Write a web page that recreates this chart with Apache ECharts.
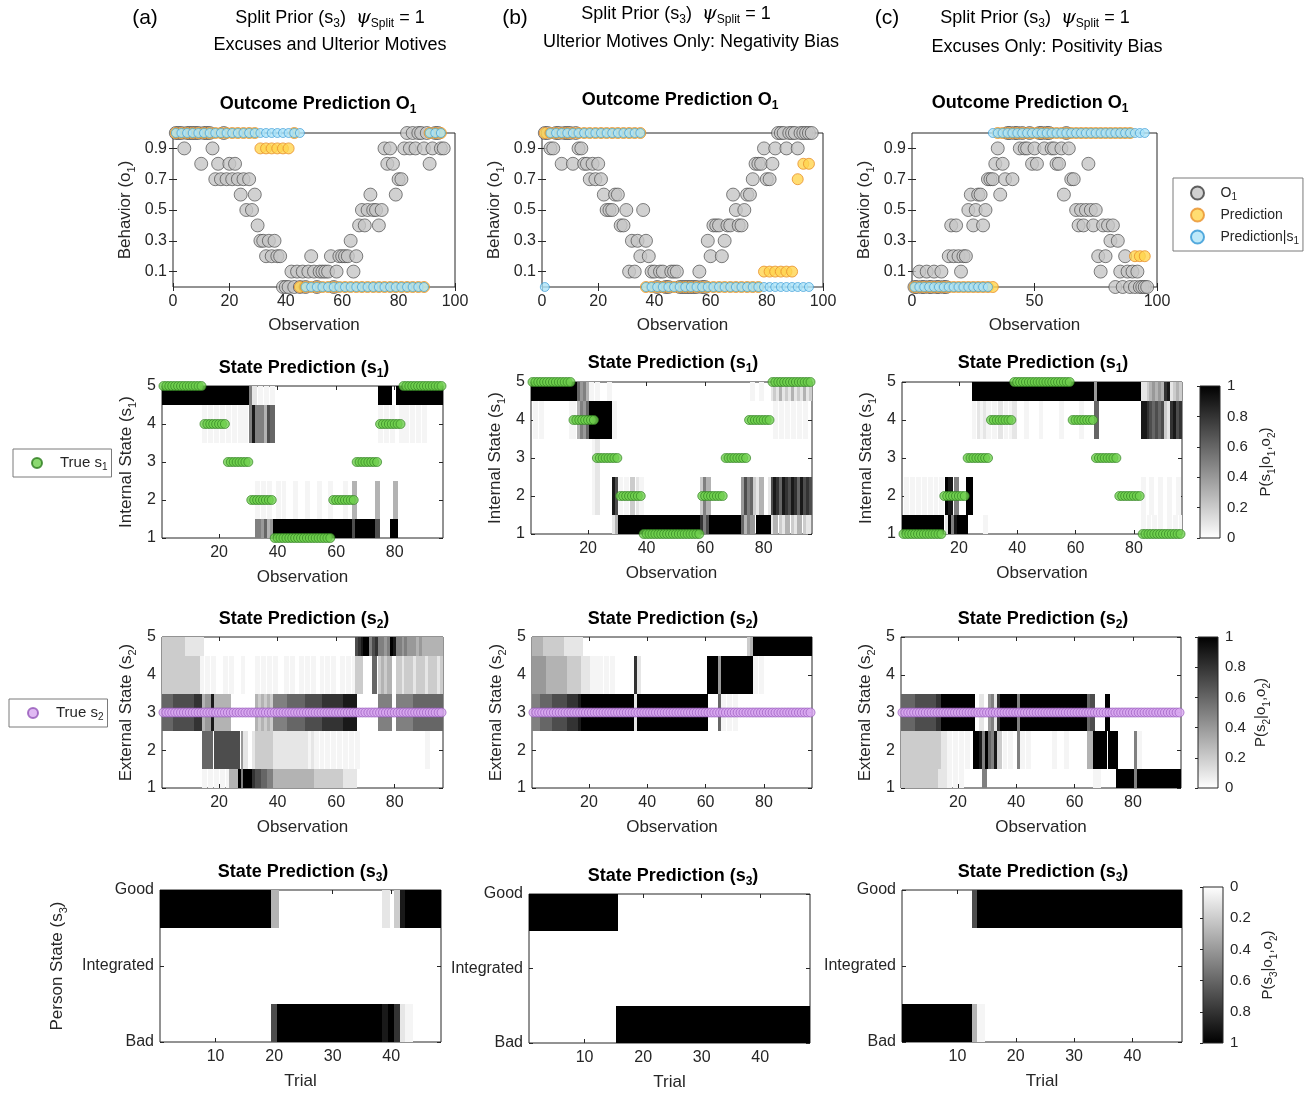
<!DOCTYPE html>
<html>
<head>
<meta charset="utf-8">
<title>Split prior simulations</title>
<script src="https://cdn.jsdelivr.net/npm/echarts@6.0.0/dist/echarts.min.js"></script>
<style>
  html, body { margin: 0; padding: 0; background: #fff; }
  #chart { width: 1312px; height: 1095px; }
</style>
</head>
<body>
<div id="chart"></div>
<script>
// ---------- data ----------
// observation i of the series is plotted at x = i (1..96)
const observations = Array.from({ length: 96 }, (_, i) => i + 1);
// predictions are made once per trial, at the first observation of the trial
const trialObs = [1,3,5,7,9,11,13,15,17,19,21,23,25,27,29,31,33,35,37,39,41,43,45,47,
  49,51,53,55,57,59,61,63,65,67,69,71,73,75,77,79,81,83,85,87,89,91,93,95];

// (a) excuses and ulterior motives
const o1A = [
  1,1,1,0.9,1,1,1,1,1,0.8,1,1,1,0.9,
  0.7,0.8,0.7,1,0.7,0.8,0.7,0.8,
  0.7,0.6,0.7,0.5,0.7,0.5,0.6,0.4,
  0.3,0.3,0.2,0.3,0.2,0.3,0.2,0.2,
  0,0,0,0.1,0,0.1,0,0.1,0,0.1,0.2,0.1,0,0.1,0.1,0.1,0.1,0.2,0,0.1,
  0.2,0.2,0.2,0.2,0.3,0.1,0.2,0.4,
  0.5,0.4,0.5,0.6,0.5,0.5,0.4,0.5,
  0.9,0.8,0.9,0.8,0.6,0.7,0.7,0.9,
  1,0.9,1,0.9,1,1,0.9,1,0.8,0.9,1,1,0.9,0.9
];
const predA = [1,1,1,1,1,1,1,1,1,1, 1,1,1,1,1,0.9,0.9,0.9,0.9,0.9, 0.9,1,0,0,0,0,0,0,0,0,
  0,0,0,0,0,0,0,0,0,0, 0,0,0,0,0,1,1,1];
const predS1A = [1,1,1,1,1,1,1,1,1,1, 1,1,1,1,1,1,1,1,1,1, 1,1,1,0,0,0,0,0,0,0,
  0,0,0,0,0,0,0,0,0,0, 0,0,0,0,0,1,1,1];

// (b) ulterior motives only
const o1B = [
  1,1,0.9,0.9,1,1,0.8,1,1,1,0.8,1,0.9,0.9,
  0.8,0.8,0.7,0.8,0.7,0.8,0.7,0.6,
  0.5,0.5,0.5,0.6,0.6,0.4,0.4,0.5,
  0.1,0.3,0.1,0.3,0.2,0.5,0.3,0.2,
  0.1,0.1,0,0.1,0.1,0,0,0.1,0.1,0.1,0,0,0,0,0,0,0,0.1,0,0,
  0.3,0.2,0.4,0.4,0.4,0.2,0.3,0.4,
  0.4,0.6,0.5,0.4,0.4,0.5,0.6,0.6,
  0.7,0.8,0.8,0.8,0.9,0.7,0.7,0.8,
  0.9,1,1,1,0.9,1,1,1,0.9,1,1,1,1,1
];
const predB = [1,1,1,1,1,1,1,1,1,1, 1,1,1,1,1,1,1,1,0,0, 0,0,0,0,0,0,0,0,0,0,
  0,0,0,0,0,0,0,0,0,0.1, 0.1,0.1,0.1,0.1,0.1,0.7,0.8,0.8];
const predS1B = [0,1,1,1,1,1,1,1,1,1, 1,1,1,1,1,1,1,1,0,0, 0,0,0,0,0,0,0,0,0,0,
  0,0,0,0,0,0,0,0,0,0, 0,0,0,0,0,0,0,0];

// (c) excuses only
const o1C = [
  0,0,0.1,0,0,0.1,0,0,0.1,0,0,0.1,0,0,
  0.2,0.4,0.2,0.4,0.2,0.1,0.2,0.2,
  0.5,0.6,0.4,0.5,0.6,0.6,0.4,0.5,
  0.7,0.7,0.7,0.8,0.9,0.6,0.8,0.7,
  1,1,0.7,1,1,0.9,1,0.9,0.9,1,0.8,0.9,0.8,1,1,0.9,1,1,0.9,0.9,
  0.8,0.8,0.9,0.6,1,0.9,0.7,0.7,
  0.5,0.4,0.5,0.4,0.5,0.8,0.5,0.4,
  0.5,0.2,0.1,0.4,0.2,0.4,0.3,0.4,
  0,0.3,0.1,0,0.2,0.1,0,0.1,0,0.1,0,0,0,0
];
const predC = [0,0,0,0,0,0,0,0,0,0, 0,0,0,0,0,0,0,1,1,1, 1,1,1,1,1,1,1,1,1,1,
  1,1,1,1,1,1,1,1,1,1, 1,1,1,1,1,0.2,0.2,0.2];
const predS1C = [0,0,0,0,0,0,0,0,0,0, 0,0,0,0,0,0,1,1,1,1, 1,1,1,1,1,1,1,1,1,1,
  1,1,1,1,1,1,1,1,1,1, 1,1,1,1,1,1,1,1];

// true hidden states
const trueS1AB = [
  5,5,5,5,5,5,5,5,5,5,5,5,5,5, 4,4,4,4,4,4,4,4, 3,3,3,3,3,3,3,3, 2,2,2,2,2,2,2,2,
  1,1,1,1,1,1,1,1,1,1,1,1,1,1,1,1,1,1,1,1,
  2,2,2,2,2,2,2,2, 3,3,3,3,3,3,3,3, 4,4,4,4,4,4,4,4, 5,5,5,5,5,5,5,5,5,5,5,5,5,5
];
const trueS1C = [
  1,1,1,1,1,1,1,1,1,1,1,1,1,1, 2,2,2,2,2,2,2,2, 3,3,3,3,3,3,3,3, 4,4,4,4,4,4,4,4,
  5,5,5,5,5,5,5,5,5,5,5,5,5,5,5,5,5,5,5,5,
  4,4,4,4,4,4,4,4, 3,3,3,3,3,3,3,3, 2,2,2,2,2,2,2,2, 1,1,1,1,1,1,1,1,1,1,1,1,1,1
];
const trueS2 = [
  3,3,3,3,3,3,3,3,3,3,3,3,3,3,3,3, 3,3,3,3,3,3,3,3,3,3,3,3,3,3,3,3,
  3,3,3,3,3,3,3,3,3,3,3,3,3,3,3,3, 3,3,3,3,3,3,3,3,3,3,3,3,3,3,3,3,
  3,3,3,3,3,3,3,3,3,3,3,3,3,3,3,3, 3,3,3,3,3,3,3,3,3,3,3,3,3,3,3,3
];

// posterior maps: one string per state (state 1 first), one char per observation,
// char = probability in tenths (0-9, 'a' = 1, '+' = faint trace); spaces only group by ten
const postS1A = [
  '0000000000 0000000000 0000000000 00554634aa aaaaaaaaaa aaaaaaaaaa aaaaa7aaaa aaa70000aa 0000000000 000000',
  '0000000000 0000000000 0000000000 00+0+0+00+ 0+000+000+ 000+000+00 00+0030000 0003000003 0000000000 000000',
  '0000000000 0000000000 0000000000 0000000000 0000000000 0000000000 0000000000 0000000000 0000000000 000000',
  '0000000000 0000+0+0+0 +0+0+0+0+0 5955537600 0000000000 0000000000 0000000000 0000+0+0+0 0+0+0+0+0+ 000000',
  'aaaaaaaaaa aaaaaaaaaa aaaaaaaaaa 510+0+0+00 0000000000 0000000000 0000000000 0000aaaa00 aaaaaaaaaa aaaaaa'
];
const postS1B = [
  '0000000000 0000000000 0000000013 aaaaaaaaaa aaaaaaaaaa aaaaaaaa85 7aaaaaaaaa aa63540aaa aa13021302 130210',
  '0000000000 0000000000 0+10000097 +0+0201+00 0000000000 0000000025 3000000000 0047562130 0179869879 869787',
  '0000000000 0000000000 0+10000000 0000000000 0000000000 0000000000 0000000000 0000000000 0000000000 000000',
  '0+0+000000 000++03546 aaaaaaaa+0 0000000000 0000000000 0000000000 0000000000 0000000000 000+0+0+0+ 0+0+00',
  'aaaaaaaaaa aaaaaa6453 +0+000+000 0000000000 0000000000 0000000000 0000000000 00000+00+0 0012131213 121312'
];
const postS1C = [
  'aaaaaaaaaa aaaa01a59a aa000000+0 0000000000 0000000000 0000000000 0000000000 0000000000 00+0+0+0+0 0+0+0+',
  '0+0+0+0+0+ 0+0+0a9050 00aa000000 0000000000 0000000000 0000000000 0000000000 0000000000 00+00+00+0 0+00+0',
  '0000000000 0000000000 0000000000 0000000000 0000000000 0000000000 0000000000 0000000000 0000000000 000000',
  '0000000000 0000000000 0000+01+1+ 0+010+0+10 00+0000+00 0000+00000 0+00006000 0000000000 0099876767 218978',
  '0000000000 0000000000 0000aaaaaa aaaaaaaaaa aaaaaaaaaa aaaaaaaaaa aaaaaa4aaa aaaaaaaaaa aa11234343 891232'
];
const postS2A = [
  '0000000000 0000+0+0+0 +0+333a5aa a877665533 3333333333 3322222222 2211110000 0000000000 0000000000 000000',
  '0000000000 0000666077 7777770410 0122222211 1111111111 +1+0+0+0+0 +0+0+0+000 0000000000 0000000000 +00000',
  '6666777777 7888344933 3330000000 0032323255 5556666667 7777788888 8899990000 0000555500 5555556666 666666',
  '2222222222 222+0+0+00 0+0+000+00 00+0+0+0+0 00+0+00+0+ 0+00+0+0+0 0+0+0+2200 0060232300 2212221222 122212',
  '2222222211 1111000000 0000000000 0000000000 0000000000 0000000000 000000789a a5785545a9 5545444343 333333'
];
const postS2B = [
  '0000000000 0000000000 0000000000 0000000000 0000000000 0000000000 0000000000 0000000000 0000000000 000000',
  '0000000000 0000000000 0000000000 0000000000 0000000000 0000000000 0000000000 0000000000 0000000000 000000',
  '5556666777 7788889aaa aaaaaaaaaa aaaaa1aaaa aaaaaaaaaa aaaaaaaaaa 00006+0+0+ 0000000000 0000000000 000000',
  '4444433333 3322222111 ++++0+0+00 0000081000 0000000000 0000000000 aaaa4aaaaa aaaaaa+0+0 0000000000 000000',
  '3333222222 2111111000 0000000000 0000000000 0000000000 0000000000 0000000000 000023aaaa aaaaaaaaaa aaaaaa'
];
const postS2C = [
  '2222222222 222111+0+0 +000000050 0000000000 0000000000 0000000000 000000++00 0000aaaaaa 5aaaaaaaaa aaaaaa',
  '2222222222 222211+0+0 +0+00aa95a 65920+0+00 5+0+000000 00+000+000 000033aaaa 0aaa000000 5+00000000 000000',
  '6666677777 7788aaaaaa aaaaa00100 4518aaaaaa 5aaaaaaaaa aaaaaaaaaa aaaa670000 a000000000 0000000000 000000',
  '0000000000 0000000000 0000000000 0000000000 0000000000 0000000000 0000000000 0000000000 0000000000 000000',
  '0000000000 0000000000 0000000000 0000000000 0000000000 0000000000 0000000000 0000000000 0000000000 000000'
];
// person state per trial: Bad, Integrated, Good
const personStates = ['Bad', 'Integrated', 'Good'];
const postS3A = [
  '0000000000 0000000007 aaaaaaaaaa aaaaaaaa9a 81+00000',
  '0000000000 0000000000 0000000000 0000000000 00000000',
  'aaaaaaaaaa aaaaaaaaa3 0000000000 0000000010 29aaaaaa'
];
const postS3B = [
  '0000000000 00000aaaaa aaaaaaaaaa aaaaaaaaaa aaaaaaaa',
  '0000000000 0000000000 0000000000 0000000000 00000000',
  'aaaaaaaaaa aaaaa00000 0000000000 0000000000 00000000'
];
const postS3C = [
  'aaaaaaaaaa aa3+000000 0000000000 0000000000 00000000',
  '0000000000 0000000000 0000000000 0000000000 00000000',
  '0000000000 007aaaaaaa aaaaaaaaaa aaaaaaaaaa aaaaaaaa'
];

// ---------- styling ----------
const FONT = '"Liberation Sans", Arial, Helvetica, sans-serif';
const INK = '#262626';
const GRAY = { color: '#c6c6c6', borderColor: '#3c3c3c', borderWidth: 0.8 };
const YELLOW = { color: '#ffd44f', borderColor: '#e8902a', borderWidth: 1 };
const CYAN = { color: '#aee4f8', borderColor: '#2f96d4', borderWidth: 0.8 };
const GREEN = { color: '#6fd04d', borderColor: '#2b7a1c', borderWidth: 0.8 };
const PURPLE = { color: '#d8a8f0', borderColor: '#9254b8', borderWidth: 0.8 };

// subscript style for option text (color) and for graphic text (fill)
const subOpt = size => ({ fontSize: size, lineHeight: size + 1, verticalAlign: 'bottom', fontFamily: FONT, color: INK });
const subZr = (size, bold) => ({ fontSize: size, lineHeight: size + 1, verticalAlign: 'bottom', fontFamily: FONT, fontWeight: bold ? 'bold' : 'normal', fill: '#000' });

const grids = [], xAxis = [], yAxis = [], series = [];

function cells(rows) {
  const out = [];
  rows.forEach((row, r) => {
    row.replace(/\s+/g, '').split('').forEach((c, i) => {
      const v = c === '+' ? 0.04 : parseInt(c, 36) / 10;
      if (v > 0) out.push([i + 1, r + 1, v]);
    });
  });
  return out;
}

// one image cell, centred on (obs, state), snapped to whole pixels and clipped to the axes box
function renderCell(params, api) {
  const x = api.value(0), y = api.value(1), v = api.value(2);
  const a = api.coord([x - 0.5, y + 0.5]);
  const b = api.coord([x + 0.5, y - 0.5]);
  const cs = params.coordSys;
  const x0 = Math.floor(a[0]), y0 = Math.round(a[1]);
  const shape = echarts.graphic.clipRectByRect(
    { x: x0, y: y0, width: Math.ceil(b[0]) - x0 + 1, height: Math.round(b[1]) - y0 },
    { x: cs.x, y: cs.y, width: cs.width, height: cs.height }
  );
  if (!shape) return null;
  const g = Math.round(255 * (1 - v));
  return { type: 'rect', shape, style: { fill: 'rgb(' + g + ',' + g + ',' + g + ')' } };
}

function panel(box, xs, ys) {
  const gi = grids.length;
  grids.push({ left: box[0], top: box[1], width: box[2], height: box[3], show: true,
    borderColor: INK, borderWidth: 1, backgroundColor: '#fff' });
  const ticks = vals => ({ inside: true, length: 4, lineStyle: { color: INK, width: 1 }, customValues: vals });
  const base = { gridIndex: gi, type: 'value', axisLine: { show: false }, splitLine: { show: false } };
  const nameStyle = { fontSize: 17, lineHeight: 24, color: INK, fontFamily: FONT, rich: { sub: subOpt(11) } };
  const xi = xAxis.length, yi = yAxis.length;
  xAxis.push(Object.assign({}, base, {
    position: 'bottom', min: xs.min, max: xs.max, axisTick: ticks(xs.ticks),
    axisLabel: { customValues: xs.ticks, fontSize: 16, color: INK, fontFamily: FONT, margin: 7 },
    name: xs.name, nameLocation: 'middle', nameGap: xs.gap, nameTextStyle: nameStyle
  }));
  xAxis.push(Object.assign({}, base, { position: 'top', min: xs.min, max: xs.max,
    axisTick: ticks(xs.ticks), axisLabel: { show: false } }));
  yAxis.push(Object.assign({}, base, {
    position: 'left', min: ys.min, max: ys.max, axisTick: ticks(ys.ticks),
    axisLabel: { customValues: ys.ticks, formatter: ys.fmt, fontSize: 16, color: INK, fontFamily: FONT, margin: 6 },
    name: ys.name || '', nameLocation: 'middle', nameRotate: 90, nameGap: ys.gap, nameTextStyle: nameStyle
  }));
  yAxis.push(Object.assign({}, base, { position: 'right', min: ys.min, max: ys.max,
    axisTick: ticks(ys.ticks), axisLabel: { show: false } }));
  return { xAxisIndex: xi, yAxisIndex: yi };
}

function colorbar(box, inverse, name, gap) {
  const gi = grids.length;
  const stops = inverse
    ? [{ offset: 0, color: '#ffffff' }, { offset: 1, color: '#000000' }]
    : [{ offset: 0, color: '#000000' }, { offset: 1, color: '#ffffff' }];
  grids.push({ left: box[0], top: box[1], width: box[2], height: box[3], show: true,
    borderColor: INK, borderWidth: 1,
    backgroundColor: { type: 'linear', x: 0, y: 0, x2: 0, y2: 1, colorStops: stops } });
  xAxis.push({ gridIndex: gi, type: 'value', show: false, min: 0, max: 1 });
  yAxis.push({
    gridIndex: gi, type: 'value', position: 'right', min: 0, max: 1, interval: 0.2, inverse,
    axisLine: { show: false }, splitLine: { show: false },
    axisTick: { inside: true, length: 3, lineStyle: { color: INK } },
    axisLabel: { fontSize: 15, color: INK, fontFamily: FONT, margin: 7 },
    name, nameLocation: 'middle', nameRotate: 90, nameGap: gap,
    nameTextStyle: { fontSize: 15, lineHeight: 22, color: INK, fontFamily: FONT, rich: { sub: subOpt(10) } }
  });
}

function outcomePanel(box, xticks, o1, pred, predS1) {
  const ax = panel(box,
    { min: 0, max: 100, ticks: xticks, name: 'Observation', gap: 26 },
    { min: 0, max: 1, ticks: [0.1, 0.3, 0.5, 0.7, 0.9], name: 'Behavior (o{sub|1})', gap: 36 });
  series.push(Object.assign({ type: 'scatter', name: 'O1', symbolSize: 13, itemStyle: GRAY, clip: false,
    data: o1.map((v, i) => [observations[i], v]) }, ax));
  series.push(Object.assign({ type: 'scatter', name: 'Prediction', symbolSize: 11, itemStyle: YELLOW, clip: false,
    data: pred.map((v, i) => [trialObs[i], v]) }, ax));
  series.push(Object.assign({ type: 'scatter', name: 'Prediction|s1', symbolSize: 9, itemStyle: CYAN, clip: false,
    data: predS1.map((v, i) => [trialObs[i], v]) }, ax));
}

function statePanel(box, post, yname, truth, truthName, truthStyle) {
  const ax = panel(box,
    { min: 0.5, max: 96.5, ticks: [20, 40, 60, 80], name: 'Observation', gap: 27 },
    { min: 1, max: 5, ticks: [1, 2, 3, 4, 5], name: yname, gap: 24 });
  series.push(Object.assign({ type: 'custom', renderItem: renderCell, encode: { x: 0, y: 1 },
    silent: true, data: cells(post) }, ax));
  series.push(Object.assign({ type: 'scatter', name: truthName, symbolSize: 9, itemStyle: truthStyle, clip: false,
    data: truth.map((v, i) => [observations[i], v]) }, ax));
}

function personPanel(box, post, yname) {
  const ax = panel(box,
    { min: 0.5, max: 48.5, ticks: [10, 20, 30, 40], name: 'Trial', gap: 27 },
    { min: 1, max: 3, ticks: [1, 2, 3], fmt: v => personStates[v - 1], name: yname, gap: 91 });
  series.push(Object.assign({ type: 'custom', renderItem: renderCell, encode: { x: 0, y: 1 },
    silent: true, data: cells(post) }, ax));
}

// row 1: outcome predictions
outcomePanel([173, 133, 282, 154], [0, 20, 40, 60, 80, 100], o1A, predA, predS1A);
outcomePanel([542, 133, 281, 154], [0, 20, 40, 60, 80, 100], o1B, predB, predS1B);
outcomePanel([912, 133, 245, 154], [0, 50, 100], o1C, predC, predS1C);
// row 2: internal state
statePanel([162, 386, 281, 152], postS1A, 'Internal State (s{sub|1})', trueS1AB, 'True s1', GREEN);
statePanel([531, 382, 281, 152], postS1B, 'Internal State (s{sub|1})', trueS1AB, 'True s1', GREEN);
statePanel([902, 382, 280, 152], postS1C, 'Internal State (s{sub|1})', trueS1C, 'True s1', GREEN);
// row 3: external state
statePanel([162, 637, 281, 151], postS2A, 'External State (s{sub|2})', trueS2, 'True s2', PURPLE);
statePanel([532, 637, 280, 151], postS2B, 'External State (s{sub|2})', trueS2, 'True s2', PURPLE);
statePanel([901, 637, 280, 151], postS2C, 'External State (s{sub|2})', trueS2, 'True s2', PURPLE);
// row 4: person state
personPanel([160, 890, 281, 152], postS3A, 'Person State (s{sub|3})');
personPanel([529, 894, 281, 152], postS3B, '');
personPanel([902, 890, 280, 152], postS3C, '');
// colour bars
colorbar([1200, 386, 20, 152], false, 'P(s{sub|1}|o{sub|1},o{sub|2})', 35);
colorbar([1198, 637, 20, 151], false, 'P(s{sub|2}|o{sub|1},o{sub|2})', 32);
colorbar([1203, 887, 20, 156], true, 'P(s{sub|3}|o{sub|1},o{sub|2})', 34);

// ---------- legends ----------
const legendLabel = {
  'O1': 'O{sub|1}', 'Prediction': 'Prediction', 'Prediction|s1': 'Prediction|s{sub|1}',
  'True s1': 'True s{sub|1}', 'True s2': 'True s{sub|2}'
};
const legendBase = {
  orient: 'vertical', selectedMode: false, borderColor: '#7a7a7a', borderWidth: 1,
  itemWidth: 36, itemHeight: 13, itemGap: 4, formatter: n => legendLabel[n],
  textStyle: { fontSize: 14, lineHeight: 18, color: INK, fontFamily: FONT, rich: { sub: subOpt(10) } }
};
const legends = [
  Object.assign({}, legendBase, { data: ['O1', 'Prediction', 'Prediction|s1'], left: 1173, top: 178, padding: [6, 4, 5, 17] }),
  Object.assign({}, legendBase, { data: ['True s1'], left: 13, top: 449, itemHeight: 10, padding: [5, 4, 5, 18],
    textStyle: Object.assign({}, legendBase.textStyle, { fontSize: 15 }) }),
  Object.assign({}, legendBase, { data: ['True s2'], left: 9, top: 699, itemHeight: 10, padding: [5, 4, 5, 18],
    textStyle: Object.assign({}, legendBase.textStyle, { fontSize: 15 }) })
];

// ---------- headings and panel titles ----------
const zrRich = {
  sub: subZr(12), bsub: subZr(12, true),
  psi: { fontSize: 19, lineHeight: 24, fontStyle: 'italic', fontFamily: '"DejaVu Serif", serif', fill: '#000' }
};
function label(text, x, y, extra) {
  return { type: 'text', x, y, silent: true,
    style: Object.assign({ text, fontSize: 18, lineHeight: 24, fontFamily: FONT, fill: '#000',
      align: 'center', verticalAlign: 'middle', rich: zrRich }, extra) };
}
const SPLIT = 'Split Prior (s{sub|3})  {psi|ψ}{sub|Split} = 1';
const bold = { fontWeight: 'bold', fontSize: 18 };
const graphic = [
  label('(a)', 145, 18, { fontSize: 21 }),
  label(SPLIT, 330, 18),
  label('Excuses and Ulterior Motives', 330, 45),
  label('(b)', 515, 18, { fontSize: 21 }),
  label(SPLIT, 676, 14),
  label('Ulterior Motives Only: Negativity Bias', 691, 42),
  label('(c)', 887, 18, { fontSize: 21 }),
  label(SPLIT, 1035, 18),
  label('Excuses Only: Positivity Bias', 1047, 47),
  label('Outcome Prediction O{bsub|1}', 318, 104, bold),
  label('Outcome Prediction O{bsub|1}', 680, 100, bold),
  label('Outcome Prediction O{bsub|1}', 1030, 103, bold),
  label('State Prediction (s{bsub|1})', 304, 368, bold),
  label('State Prediction (s{bsub|1})', 673, 363, bold),
  label('State Prediction (s{bsub|1})', 1043, 363, bold),
  label('State Prediction (s{bsub|2})', 304, 619, bold),
  label('State Prediction (s{bsub|2})', 673, 619, bold),
  label('State Prediction (s{bsub|2})', 1043, 619, bold),
  label('State Prediction (s{bsub|3})', 303, 872, bold),
  label('State Prediction (s{bsub|3})', 673, 876, bold),
  label('State Prediction (s{bsub|3})', 1043, 872, bold)
];

const chart = echarts.init(document.getElementById('chart'), null, { renderer: 'canvas' });
chart.setOption({
  animation: false,
  backgroundColor: '#fff',
  textStyle: { fontFamily: FONT },
  grid: grids,
  xAxis,
  yAxis,
  legend: legends,
  graphic,
  series
});
</script>
</body>
</html>
